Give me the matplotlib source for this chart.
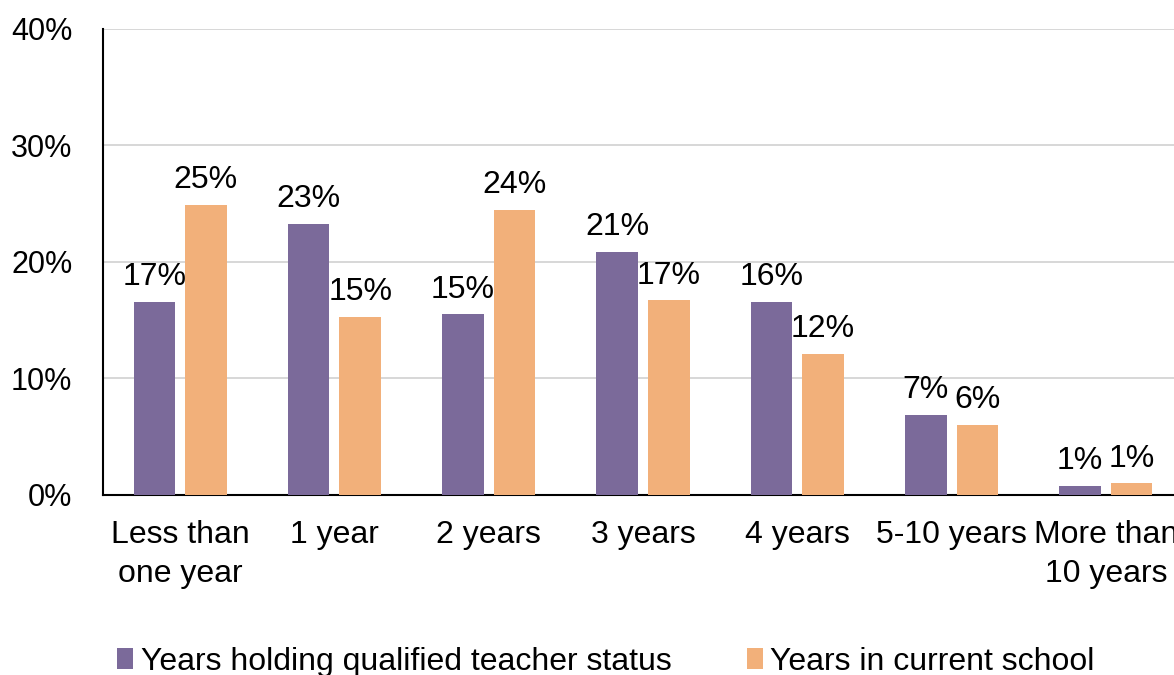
import matplotlib
matplotlib.use("Agg")
import matplotlib.pyplot as plt
import numpy as np

plt.rcParams['font.family'] = ['Liberation Sans', 'DejaVu Sans']

categories = ["Less than\none year", "1 year", "2 years", "3 years", "4 years",
              "5-10 years", "More than\n10 years"]
qts_vals = [16.6, 23.3, 15.5, 20.9, 16.6, 6.9, 0.8]
school_vals = [24.9, 15.3, 24.5, 16.7, 12.1, 6.0, 1.0]
qts_labels = ["17%", "23%", "15%", "21%", "16%", "7%", "1%"]
school_labels = ["25%", "15%", "24%", "17%", "12%", "6%", "1%"]
series_names = ["Years holding qualified teacher status", "Years in current school"]

purple = "#7B6A9A"
orange = "#F2B07A"

fig = plt.figure(figsize=(11.74, 6.75), dpi=100)
ax = fig.add_axes([103/1174, 1 - 495/675, 1080/1174, 466/675])

x = np.arange(len(categories))
w = 0.27
off = 0.167
b1 = ax.bar(x - off, qts_vals, w, color=purple, label=series_names[0], zorder=3)
b2 = ax.bar(x + off, school_vals, w, color=orange, label=series_names[1], zorder=3)

for bars, labs in [(b1, qts_labels), (b2, school_labels)]:
    for r, t in zip(bars, labs):
        ax.annotate(t, (r.get_x() + r.get_width()/2, r.get_height()),
                    xytext=(0, 7), textcoords="offset points",
                    ha="center", va="bottom", fontsize=23)

ax.set_xlim(-0.5, len(categories) - 0.5)
ax.set_ylim(0, 40)
ax.set_yticks([0, 10, 20, 30, 40])
ax.set_yticklabels(["0%", "10%", "20%", "30%", "40%"], fontsize=22)
ax.set_xticks(x)
ax.set_xticklabels(categories, fontsize=23, linespacing=1.4)
ax.tick_params(axis="both", length=0)
ax.tick_params(axis="y", pad=22)
ax.tick_params(axis="x", pad=18)
ax.grid(axis="y", color="#d4d4d4", linewidth=1.3, zorder=0)
for s in ["top", "right"]:
    ax.spines[s].set_visible(False)
ax.spines["left"].set_linewidth(1.5)
ax.spines["bottom"].set_linewidth(1.5)

fig.legend(handles=[b1, b2], labels=series_names, loc="lower left",
           bbox_to_anchor=(88/1174, -0.045), ncol=2, frameon=False,
           prop={'size': 23},
           handlelength=0.5, handleheight=0.6, handletextpad=0.25, columnspacing=2.35)

fig.savefig("out.png", dpi=100)
